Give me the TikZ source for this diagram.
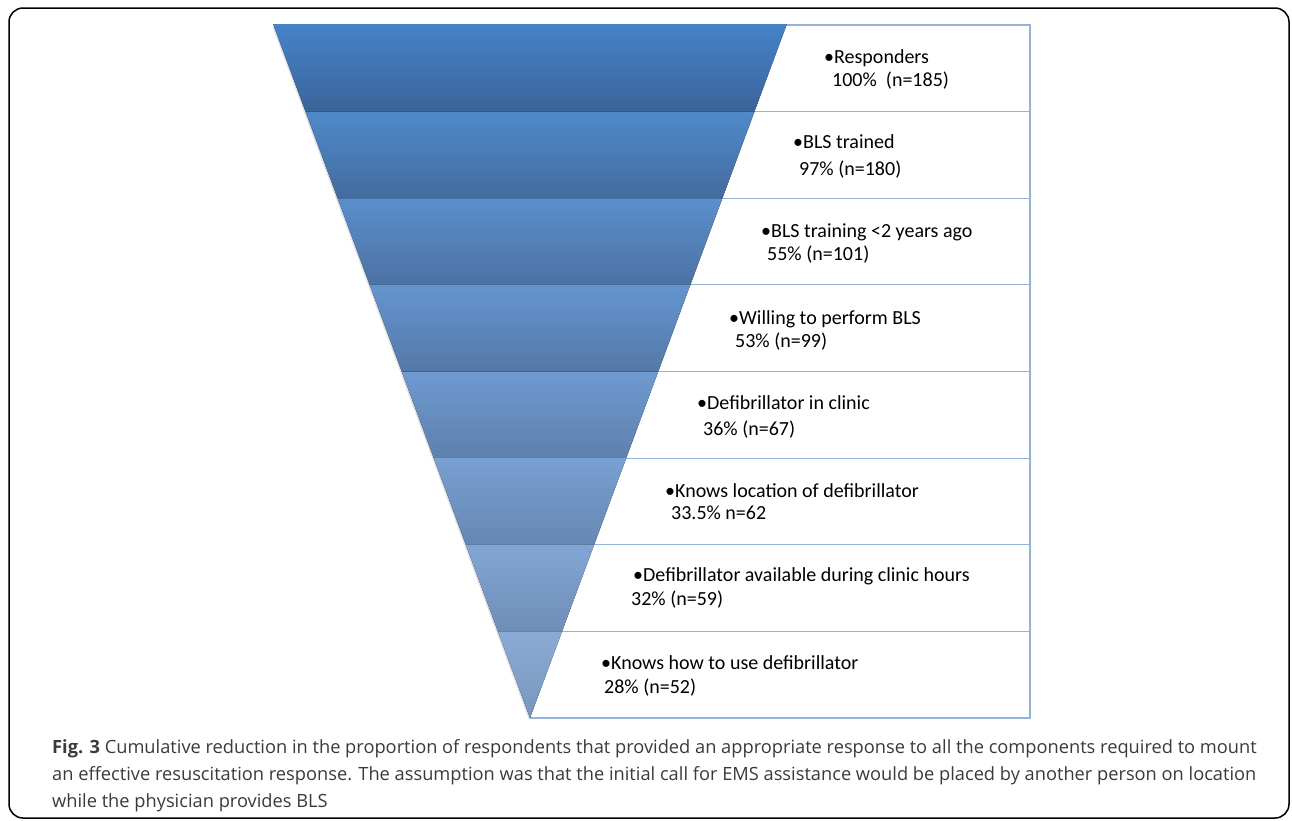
\documentclass[tikz,border=0pt]{standalone}
\usepackage{fontspec}
\setmainfont{Carlito}
\newfontfamily\capfont{Open Sans}
\definecolor{boxline}{HTML}{95B3D7}
\definecolor{topfirst}{HTML}{4683C9}
\definecolor{toplast}{HTML}{8BABD5}
\definecolor{botfirst}{HTML}{3A6498}
\definecolor{botlast}{HTML}{7895BD}
\definecolor{capgray}{HTML}{3A3A3A}
\tikzset{
	listbox/.style={draw=boxline, line width=1.2pt},
	itemtext/.style={anchor=base west, inner sep=0pt, font=\fontsize{20}{23}\selectfont},
	captext/.style={anchor=base west, inner sep=0pt, text=capgray, font=\capfont\fontsize{18.25}{22}\selectfont},
}

\begin{document}
\begin{tikzpicture}[x=1pt, y=-1pt]
	\useasboundingbox (0,0) rectangle (1292,820);
	\draw[line width=1.5pt, rounded corners=14pt] (9,8) rectangle (1289,818);
	
	\foreach \i in {0,...,7} {
		\pgfmathsetmacro{\ytop}{25+86.625*\i}
		\pgfmathsetmacro{\ybot}{25+86.625*(\i+1)}
		\draw[listbox] (530,\ytop) rectangle (1030,\ybot);
	}
	
	\fill[black!12] (272.5,27) -- (785.5,27) -- (529,720) -- cycle;
	\foreach \i in {0,...,7} {
		\pgfmathsetmacro{\ytop}{25+86.625*\i-(\i==0)}
		\pgfmathsetmacro{\ybot}{25+86.625*(\i+1)}
		\pgfmathsetmacro{\wtop}{0.37013*(718-\ytop)}
		\pgfmathsetmacro{\wbot}{0.37013*(718-\ybot)}
		\pgfmathtruncatemacro{\mix}{100-\i*100/7}
		\fill[top color=topfirst!\mix!toplast, bottom color=botfirst!\mix!botlast]
			(530-\wtop,\ytop) -- (530+\wtop,\ytop) -- (530+\wbot,\ybot) -- (530-\wbot,\ybot) -- cycle;
	}
	
	\foreach \n/\xa/\ya/\ta/\xb/\yb/\tb in {
		1/824/63/Responders/832/86/100\%\ \ (n=185),
		2/793/148/BLS trained/799/175/97\% (n=180),
		3/761/237/BLS training <2 years ago/767/260/55\% (n=101),
		4/729/324/Willing to perform BLS/735/347/53\% (n=99),
		5/697/409/Defibrillator in clinic/703/435/36\% (n=67),
		6/665/497/Knows location of defibrillator/671/519/33.5\% n=62,
		7/633/581/Defibrillator available during clinic hours/631/605/32\% (n=59),
		8/601/669/Knows how to use defibrillator/604/693/28\% (n=52)} {
		\node[itemtext] (item\n a) at (\xa,\ya) {\textbullet\ta};
		\node[itemtext] (item\n b) at (\xb,\yb) {\tb};
	}
	
	\node[captext] (cap1) at (52,753) {\textbf{Fig. 3} Cumulative reduction in the proportion of respondents that provided an appropriate response to all the components required to mount};
	\node[captext] (cap2) at (52,780) {an effective resuscitation response. The assumption was that the initial call for EMS assistance would be placed by another person on location};
	\node[captext] (cap3) at (52,807) {while the physician provides BLS};
\end{tikzpicture}
\end{document}
